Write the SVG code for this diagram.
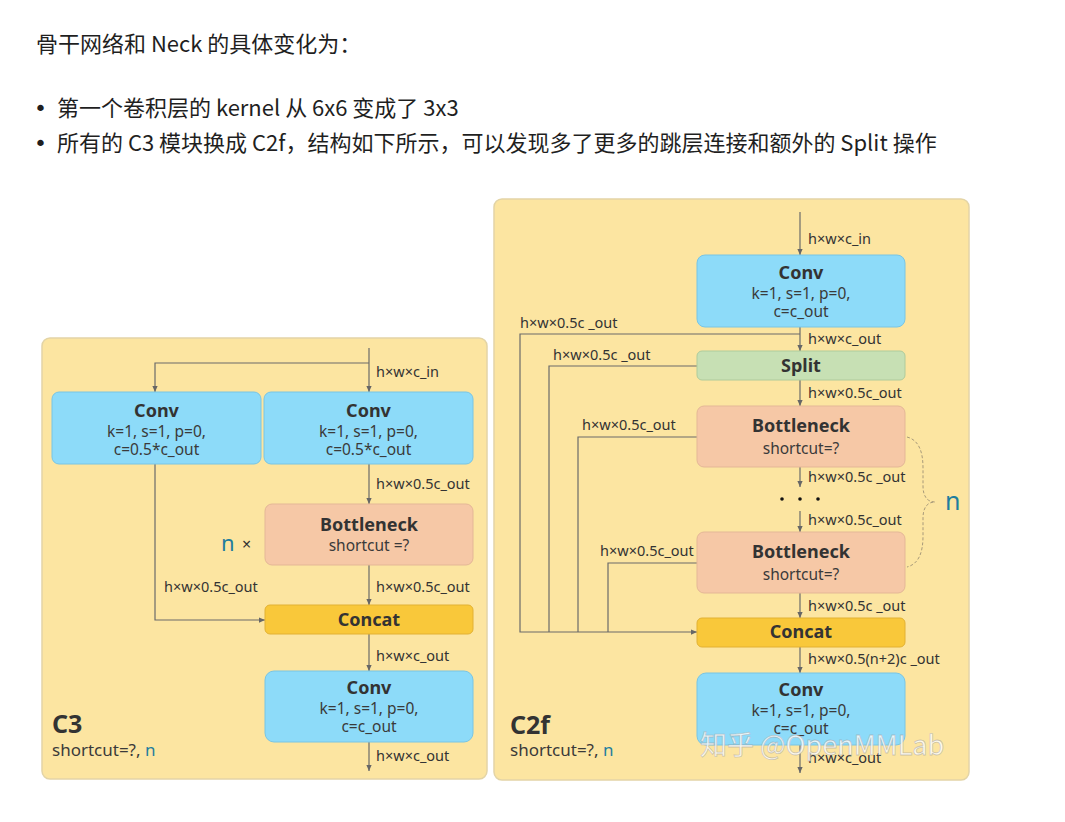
<svg xmlns="http://www.w3.org/2000/svg" width="1065" height="822" viewBox="0 0 1065 822">
<defs>
<marker id="arr" viewBox="0 0 8 8" refX="8" refY="4" markerWidth="6" markerHeight="6" orient="auto" markerUnits="userSpaceOnUse">
<path d="M0,0.5 L8,4 L0,7.5 Z" fill="#666"/>
</marker>
<style>
.hd{font-family:"Noto Sans CJK SC","Noto Sans",sans-serif;font-size:22px;fill:#1f1f1f}
.bu{font-family:"DejaVu Sans",sans-serif;font-size:22px;fill:#1f1f1f}
.panel{fill:#FCE5A1;stroke:#E3D4A6;stroke-width:1.5}
.conv{fill:#8DDBF9;stroke:#79C5E4;stroke-width:1}
.bott{fill:#F6C8A6;stroke:#E4B797;stroke-width:1}
.cat{fill:#F9C83A;stroke:#E2B132;stroke-width:1}
.split{fill:#C7E0B4;stroke:#AECB9C;stroke-width:1}
.t{font-family:"Noto Sans","Open Sans",sans-serif;font-size:18px;font-weight:bold;fill:#333;text-anchor:middle}
.s{font-family:"Noto Sans","Open Sans",sans-serif;font-size:15.5px;fill:#3a3a3a;text-anchor:middle}
.l{font-family:"Noto Sans","Open Sans",sans-serif;font-size:14.5px;fill:#333}
.big{font-family:"Noto Sans","Open Sans",sans-serif;font-size:25px;font-weight:bold;fill:#333}
.sc{font-family:"Noto Sans","Open Sans",sans-serif;font-size:17px;fill:#3a3a3a}
.n{fill:#1F7E9E}
.ln{fill:none;stroke:#6a6a6a;stroke-width:1.2}
.a{marker-end:url(#arr)}
</style>
</defs>
<rect width="1065" height="822" fill="#ffffff"/>
<g id="heading">
<text class="hd" x="36" y="52">骨干网络和 Neck 的具体变化为：</text>
<text class="bu" x="34" y="116">•</text>
<text class="hd" x="57" y="116">第一个卷积层的 kernel 从 6x6 变成了 3x3</text>
<text class="bu" x="34" y="151">•</text>
<text class="hd" x="57" y="151">所有的 C3 模块换成 C2f，结构如下所示，可以发现多了更多的跳层连接和额外的 Split 操作</text>
</g>
<g id="c3-panel">
<rect class="panel" x="42" y="338" width="445" height="441" rx="8"/>
<text class="big" x="52" y="733">C3</text>
<text class="sc" x="52" y="756">shortcut=?, <tspan class="n">n</tspan></text>
</g>
<g id="c2f-panel">
<rect class="panel" x="494" y="199" width="475" height="581" rx="8"/>
<text class="big" x="510" y="734">C2f</text>
<text class="sc" x="510" y="756">shortcut=?, <tspan class="n">n</tspan></text>
</g>
<g id="connectors">
<path class="ln a" d="M369,348 V392"/>
<path class="ln a" d="M369,363 H155 V392"/>
<path class="ln a" d="M369,464 V504"/>
<path class="ln a" d="M369,565 V605"/>
<path class="ln a" d="M155,464 V620 H265"/>
<path class="ln a" d="M369,634 V671"/>
<path class="ln a" d="M369,742 V771"/>
<path class="ln a" d="M800,212 V255"/>
<path class="ln a" d="M800,327 V351"/>
<path class="ln a" d="M800,334 H520 V632 H697"/>
<path class="ln" d="M697,366 H549 V632"/>
<path class="ln" d="M697,437 H578 V632"/>
<path class="ln" d="M697,563 H608 V632"/>
<path class="ln a" d="M800,380 V406"/>
<path class="ln a" d="M800,467 V487"/>
<path class="ln a" d="M800,511 V532"/>
<path class="ln a" d="M800,593 V618"/>
<path class="ln a" d="M800,647 V673"/>
<path class="ln a" d="M800,745 V773"/>
<path d="M907,437 C919,440 923,452 923,468 L923,486 C923,496 927,502 935,502 C927,502 923,508 923,518 L923,536 C923,552 919,564 907,567" fill="none" stroke="#A89A7A" stroke-width="1" stroke-dasharray="3,2"/>
</g>
<g id="c3-labels">
<text class="l" x="376" y="377">h×w×c_in</text>
<text class="l" x="376" y="489">h×w×0.5c_out</text>
<text class="l" x="164" y="592">h×w×0.5c_out</text>
<text class="l" x="376" y="592">h×w×0.5c_out</text>
<text class="l" x="376" y="661">h×w×c_out</text>
<text class="l" x="376" y="761">h×w×c_out</text>
<text x="221" y="551" font-family="Noto Sans,sans-serif" font-size="22" class="n">n</text>
<text x="242" y="550" font-family="Noto Sans,sans-serif" font-size="16" fill="#333">×</text>
</g>
<g id="c3-conv-left">
<rect class="conv" x="52" y="392" width="209" height="72" rx="7"/>
<text class="t" x="156.5" y="417">Conv</text>
<text class="s" x="156.5" y="437">k=1, s=1, p=0,</text>
<text class="s" x="156.5" y="455">c=0.5*c_out</text>
</g>
<g id="c3-conv-right">
<rect class="conv" x="264" y="392" width="209" height="72" rx="7"/>
<text class="t" x="368.5" y="417">Conv</text>
<text class="s" x="368.5" y="437">k=1, s=1, p=0,</text>
<text class="s" x="368.5" y="455">c=0.5*c_out</text>
</g>
<g id="c3-bottleneck">
<rect class="bott" x="265" y="504" width="208" height="61" rx="7"/>
<text class="t" x="369" y="531">Bottleneck</text>
<text class="s" x="369" y="551">shortcut =?</text>
</g>
<g id="c3-concat">
<rect class="cat" x="265" y="605" width="208" height="29" rx="5"/>
<text class="t" x="369" y="626">Concat</text>
</g>
<g id="c3-conv-out">
<rect class="conv" x="265" y="671" width="208" height="71" rx="9"/>
<text class="t" x="369" y="694">Conv</text>
<text class="s" x="369" y="714">k=1, s=1, p=0,</text>
<text class="s" x="369" y="732">c=c_out</text>
</g>
<g id="c2f-labels">
<text class="l" x="808" y="244">h×w×c_in</text>
<text class="l" x="520" y="328">h×w×0.5c _out</text>
<text class="l" x="808" y="344">h×w×c_out</text>
<text class="l" x="553" y="360">h×w×0.5c _out</text>
<text class="l" x="808" y="398">h×w×0.5c_out</text>
<text class="l" x="582" y="430">h×w×0.5c_out</text>
<text class="l" x="808" y="482">h×w×0.5c _out</text>
<text class="l" x="808" y="525">h×w×0.5c_out</text>
<text class="l" x="600" y="556">h×w×0.5c_out</text>
<text class="l" x="808" y="611">h×w×0.5c _out</text>
<text class="l" x="808" y="664">h×w×0.5(n+2)c _out</text>
<text class="l" x="808" y="763">h×w×c_out</text>
<circle cx="782" cy="499" r="1.8" fill="#111"/>
<circle cx="800" cy="499" r="1.8" fill="#111"/>
<circle cx="818" cy="499" r="1.8" fill="#111"/>
<text x="945" y="510" font-family="Noto Sans,sans-serif" font-size="25" class="n">n</text>
</g>
<g id="c2f-conv-in">
<rect class="conv" x="697" y="255" width="208" height="72" rx="8"/>
<text class="t" x="801" y="279">Conv</text>
<text class="s" x="801" y="299">k=1, s=1, p=0,</text>
<text class="s" x="801" y="317">c=c_out</text>
</g>
<g id="c2f-split">
<rect class="split" x="697" y="351" width="208" height="29" rx="5"/>
<text class="t" x="801" y="372">Split</text>
</g>
<g id="c2f-bottleneck-1">
<rect class="bott" x="697" y="406" width="208" height="61" rx="7"/>
<text class="t" x="801" y="432">Bottleneck</text>
<text class="s" x="801" y="454">shortcut=?</text>
</g>
<g id="c2f-bottleneck-n">
<rect class="bott" x="697" y="532" width="208" height="61" rx="7"/>
<text class="t" x="801" y="558">Bottleneck</text>
<text class="s" x="801" y="580">shortcut=?</text>
</g>
<g id="c2f-concat">
<rect class="cat" x="697" y="618" width="208" height="29" rx="5"/>
<text class="t" x="801" y="638">Concat</text>
</g>
<g id="c2f-conv-out">
<rect class="conv" x="697" y="673" width="208" height="72" rx="9"/>
<text class="t" x="801" y="696">Conv</text>
<text class="s" x="801" y="716">k=1, s=1, p=0,</text>
<text class="s" x="801" y="734">c=c_out</text>
</g>
<g id="watermark">
<text x="700" y="755" font-family="Noto Sans CJK SC,Noto Sans,sans-serif" font-size="27" fill="#ffffff" fill-opacity="0.8" stroke="#9a9a9a" stroke-opacity="0.5" stroke-width="0.8">知乎 @OpenMMLab</text>
</g>
</svg>
